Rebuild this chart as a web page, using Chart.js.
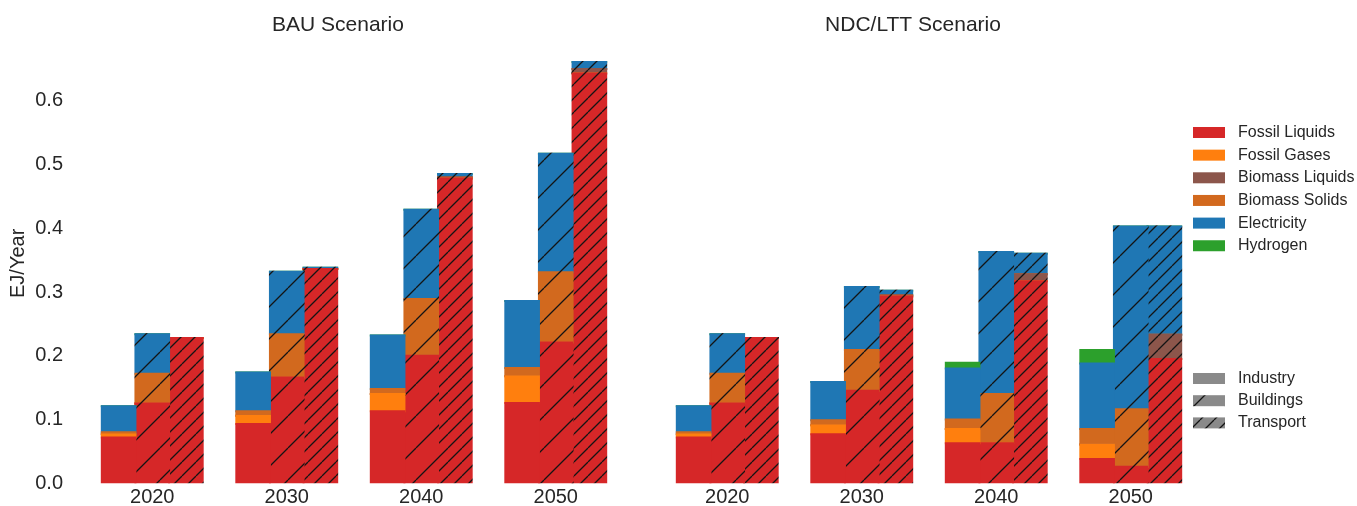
<!DOCTYPE html>
<html>
<head>
<meta charset="utf-8">
<script src="https://cdn.jsdelivr.net/npm/chart.js@4.4.1/dist/chart.umd.min.js"></script>
<style>
  html, body { margin: 0; padding: 0; background: #ffffff; }
  #wrap { position: relative; width: 1357px; height: 506px; overflow: hidden; }
  #wrap canvas { position: absolute; top: 0; }
</style>
</head>
<body>
<div id="wrap">
  <canvas id="bau" width="640" height="506" style="left:0;width:640px;height:506px"></canvas>
  <canvas id="ndc" width="717" height="506" style="left:640px;width:717px;height:506px"></canvas>
</div>
<script>
// Final energy demand by sector and carrier, EJ per year
const years = ['2020', '2030', '2040', '2050'];
const fuels = ['Fossil Liquids', 'Fossil Gases', 'Biomass Liquids', 'Biomass Solids', 'Electricity', 'Hydrogen'];
const fuelColors = ['#d62728', '#ff7f0e', '#8c564b', '#d2691e', '#1f77b4', '#2ca02c'];
const sectors = ['Industry', 'Buildings', 'Transport'];
const yTicks = [0.0, 0.1, 0.2, 0.3, 0.4, 0.5, 0.6];

// Rows follow the fuels order, columns follow the years
const bauIndustry = [
  [0.072, 0.093, 0.113, 0.126],
  [0.005, 0.013, 0.027, 0.042],
  [0.000, 0.000, 0.000, 0.000],
  [0.003, 0.007, 0.008, 0.013],
  [0.041, 0.061, 0.084, 0.105],
  [0.000, 0.000, 0.000, 0.000]
];
const bauBuildings = [
  [0.125, 0.166, 0.200, 0.221],
  [0.000, 0.000, 0.000, 0.000],
  [0.000, 0.000, 0.000, 0.000],
  [0.047, 0.068, 0.089, 0.110],
  [0.062, 0.098, 0.140, 0.186],
  [0.000, 0.000, 0.000, 0.000]
];
const bauTransport = [
  [0.228, 0.336, 0.478, 0.643],
  [0.000, 0.000, 0.000, 0.000],
  [0.000, 0.000, 0.002, 0.007],
  [0.000, 0.000, 0.000, 0.000],
  [0.000, 0.002, 0.005, 0.011],
  [0.000, 0.000, 0.000, 0.000]
];
const ndcIndustry = [
  [0.072, 0.077, 0.063, 0.038],
  [0.005, 0.014, 0.022, 0.023],
  [0.000, 0.000, 0.000, 0.000],
  [0.003, 0.008, 0.015, 0.024],
  [0.041, 0.060, 0.080, 0.103],
  [0.000, 0.000, 0.009, 0.021]
];
const ndcBuildings = [
  [0.125, 0.145, 0.063, 0.026],
  [0.000, 0.000, 0.000, 0.000],
  [0.000, 0.000, 0.000, 0.000],
  [0.047, 0.064, 0.077, 0.090],
  [0.062, 0.099, 0.223, 0.287],
  [0.000, 0.000, 0.000, 0.000]
];
const ndcTransport = [
  [0.228, 0.293, 0.317, 0.195],
  [0.000, 0.000, 0.000, 0.000],
  [0.000, 0.002, 0.011, 0.038],
  [0.000, 0.000, 0.000, 0.000],
  [0.000, 0.007, 0.032, 0.170],
  [0.000, 0.000, 0.000, 0.000]
];

const FONT = "'Liberation Sans', Arial, Helvetica, sans-serif";
const TEXT = '#262626';
const Y_MAX = 0.69;
const Y_ZERO = 483.3;      // pixel row of the zero line
const PX_PER_UNIT = 637.5; // vertical pixels per EJ/year

// Diagonal hatching: none for Industry, sparse for Buildings, dense for Transport
const hatchPeriod = { Industry: 0, Buildings: 32, Transport: 14 };

function makeFill(color, sector) {
  const p = hatchPeriod[sector];
  if (!p) return color;
  const c = document.createElement('canvas');
  c.width = p; c.height = p;
  const g = c.getContext('2d');
  g.fillStyle = color;
  g.fillRect(0, 0, p, p);
  g.strokeStyle = '#141414';
  g.lineWidth = 1.3;
  g.beginPath();
  for (const o of [-p, 0, p]) { g.moveTo(o, p); g.lineTo(o + p, 0); }
  g.stroke();
  return g.createPattern(c, 'repeat');
}

function buildDatasets(bySector) {
  const sets = [];
  sectors.forEach((sector, si) => {
    fuels.forEach((fuel, fi) => {
      sets.push({
        label: fuel + ' (' + sector + ')',
        stack: sector,
        data: bySector[si][fi],
        backgroundColor: makeFill(fuelColors[fi], sector),
        borderWidth: 0,
        inflateAmount: 1,
        categoryPercentage: 0.75,
        barPercentage: 1.0
      });
    });
  });
  return sets;
}

// Scenario heading, centred on a given page x
function titlePlugin(text, centerX, canvasLeft) {
  return {
    id: 'scenarioTitle',
    afterDraw(chart) {
      const ctx = chart.ctx;
      ctx.save();
      ctx.font = '21px ' + FONT;
      ctx.fillStyle = TEXT;
      ctx.textAlign = 'center';
      ctx.textBaseline = 'alphabetic';
      ctx.fillText(text, centerX - canvasLeft, 31);
      ctx.restore();
    }
  };
}

// Two-part legend: carriers (colours) and sectors (hatches)
const legendPlugin = {
  id: 'carrierSectorLegend',
  afterDraw(chart) {
    const ctx = chart.ctx;
    const x0 = 1193 - 640, w = 32, h = 11, tx = 1238 - 640;
    ctx.save();
    ctx.font = '16px ' + FONT;
    ctx.textBaseline = 'middle';
    ctx.textAlign = 'left';
    fuels.forEach((fuel, i) => {
      const cy = 132.5 + i * 22.65;
      ctx.fillStyle = fuelColors[i];
      ctx.fillRect(x0, cy - h / 2, w, h);
      ctx.fillStyle = TEXT;
      ctx.fillText(fuel, tx, cy);
    });
    sectors.forEach((sector, i) => {
      const cy = 378.5 + i * 22.2;
      ctx.fillStyle = makeFill('#8a8a8a', sector);
      ctx.fillRect(x0, cy - h / 2, w, h);
      ctx.fillStyle = TEXT;
      ctx.fillText(sector, tx, cy);
    });
    ctx.restore();
  }
};

function makeChart(id, bySector, opts) {
  return new Chart(document.getElementById(id), {
    type: 'bar',
    data: { labels: years, datasets: buildDatasets(bySector) },
    options: {
      responsive: false,
      animation: false,
      devicePixelRatio: 1,
      layout: { padding: { top: Y_ZERO - Y_MAX * PX_PER_UNIT, bottom: 0, left: opts.padLeft, right: opts.padRight } },
      plugins: { legend: { display: false }, tooltip: { enabled: false }, title: { display: false } },
      scales: {
        x: {
          stacked: true,
          grid: { display: false, drawTicks: false },
          border: { display: false },
          ticks: { color: TEXT, font: { family: FONT, size: 20 }, padding: 2 },
          afterFit(s) {
            s.height = 506 - Y_ZERO;
            s.paddingLeft = 0; s.paddingRight = 0;
          }
        },
        y: {
          stacked: true,
          display: opts.showY,
          min: 0,
          max: Y_MAX,
          grid: { display: false, drawTicks: false },
          border: { display: false },
          afterBuildTicks(s) { s.ticks = yTicks.map(v => ({ value: v })); },
          afterFit(s) {
            s.width = opts.showY ? 85 : 0;
            s.paddingTop = 0; s.paddingBottom = 0;
          },
          ticks: {
            color: TEXT,
            font: { family: FONT, size: 20 },
            padding: 22,
            callback: v => Number(v).toFixed(1)
          },
          title: {
            display: true,
            text: 'EJ/Year',
            color: TEXT,
            font: { family: FONT, size: 20 },
            padding: { top: 6, bottom: 0 }
          }
        }
      }
    },
    plugins: opts.plugins
  });
}

makeChart('bau', [bauIndustry, bauBuildings, bauTransport], {
  showY: true, padLeft: 0, padRight: 17,
  plugins: [titlePlugin('BAU Scenario', 338, 0)]
});
makeChart('ndc', [ndcIndustry, ndcBuildings, ndcTransport], {
  showY: false, padLeft: 20, padRight: 159,
  plugins: [titlePlugin('NDC/LTT Scenario', 913, 640), legendPlugin]
});
</script>
</body>
</html>
